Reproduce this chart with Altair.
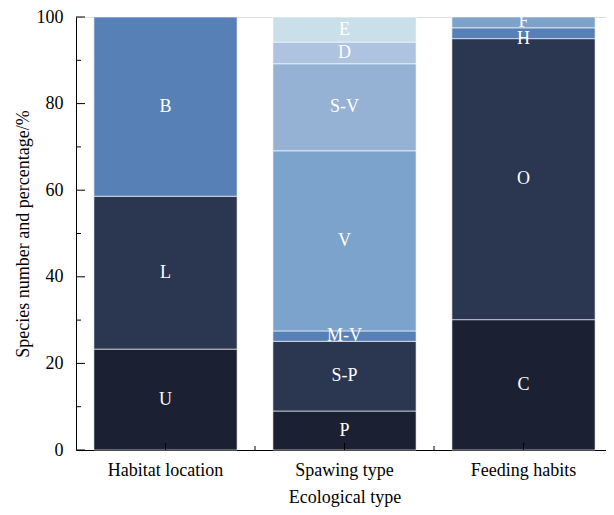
import altair as alt
import pandas as pd

groups = ["Habitat location", "Spawing type", "Feeding habits"]

seg_group = ["Habitat location"] * 3 + ["Spawing type"] * 7 + ["Feeding habits"] * 4
seg_label = ["U", "L", "B",
             "P", "S-P", "M-V", "V", "S-V", "D", "E",
             "C", "O", "H", "F"]
seg_value = [23.3, 35.3, 41.4,
             9.0, 16.1, 2.4, 41.6, 20.1, 5.0, 5.8,
             30.1, 64.9, 2.5, 2.5]
seg_color = ["#1b2133", "#2b3650", "#5781b6",
             "#1b2133", "#2b3650", "#5781b6", "#7ca3cc", "#95b1d3", "#aec3df", "#c9dfea",
             "#1b2133", "#2b3650", "#5781b6", "#7da3cb"]

y_major = [0, 20, 40, 60, 80, 100]
y_minor = [10, 30, 50, 70, 90]

df = pd.DataFrame({"group": seg_group, "label": seg_label,
                   "value": seg_value, "color": seg_color})
df["y1"] = df.groupby("group")["value"].cumsum()
df["y0"] = df["y1"] - df["value"]
df["mid"] = (df["y0"] + df["y1"]) / 2
df.loc[df["label"] == "H", "mid"] -= 1.3

W, H = 530, 433
XR = 537
STEP = XR / len(groups)
FONT = "Liberation Serif"

xscale = alt.Scale(domain=groups, paddingInner=0.2, paddingOuter=0.1, range=[0, XR])
yscale = alt.Scale(domain=[0, 100], nice=False)

x_enc = alt.X("group:N", scale=xscale, sort=groups,
              axis=alt.Axis(title="Ecological type", labelAngle=0, ticks=False,
                            labelPadding=11, titleY=52, titleBaseline="alphabetic",
                            titleX=XR / 2, titleAlign="center",
                            labelFontSize=18, titleFontSize=18,
                            labelFont=FONT, titleFont=FONT,
                            labelColor="black", titleColor="black",
                            titleFontWeight="normal",
                            domainColor="black", grid=False))

bars = alt.Chart(df).mark_bar(stroke="white", strokeWidth=1, strokeOpacity=0.6).encode(
    x=x_enc,
    y=alt.Y("y0:Q", scale=yscale,
            axis=alt.Axis(title="Species number and percentage/%", values=y_major,
                          ticks=False, labelPadding=13,
                          titleX=-48, titleY=H / 2, titleAngle=-90,
                          titleBaseline="alphabetic", titleAlign="center",
                          labelFontSize=18, titleFontSize=18,
                          labelFont=FONT, titleFont=FONT,
                          labelColor="black", titleColor="black",
                          titleFontWeight="normal",
                          domainColor="black", grid=False)),
    y2="y1:Q",
    color=alt.Color("color:N", scale=None),
)

texts = alt.Chart(df).mark_text(color="white", font=FONT, fontSize=18,
                                baseline="middle", align="center").encode(
    x=alt.X("group:N", scale=xscale, sort=groups),
    y=alt.Y("mid:Q", scale=yscale),
    text="label:N",
)

ymaj = alt.Chart(pd.DataFrame({"v": y_major})).mark_rule(color="black", strokeWidth=1).encode(
    y=alt.Y("v:Q", scale=yscale), x=alt.value(0), x2=alt.value(9))
ymin = alt.Chart(pd.DataFrame({"v": y_minor})).mark_rule(color="black", strokeWidth=1).encode(
    y=alt.Y("v:Q", scale=yscale), x=alt.value(0), x2=alt.value(5))

xmaj = alt.Chart(pd.DataFrame({"group": groups})).mark_rule(color="black", strokeWidth=1).encode(
    x=alt.X("group:N", scale=xscale, sort=groups, bandPosition=0.5),
    y=alt.value(H - 7), y2=alt.value(H))
xmin = alt.Chart(pd.DataFrame({"group": groups})).mark_rule(
    color="black", strokeWidth=1, xOffset=STEP * 0.1).encode(
    x=alt.X("group:N", scale=xscale, sort=groups, bandPosition=1),
    y=alt.value(H - 4), y2=alt.value(H))

chart = alt.layer(bars, texts, ymaj, ymin, xmaj, xmin).properties(
    width=W, height=H,
    autosize=alt.AutoSizeParams(type="none"),
    padding={"left": 68, "top": 9, "right": 0, "bottom": 57},
).configure_view(stroke=None).configure(font=FONT)

chart.save("out.html", embed_options={"renderer": "svg", "actions": False})
